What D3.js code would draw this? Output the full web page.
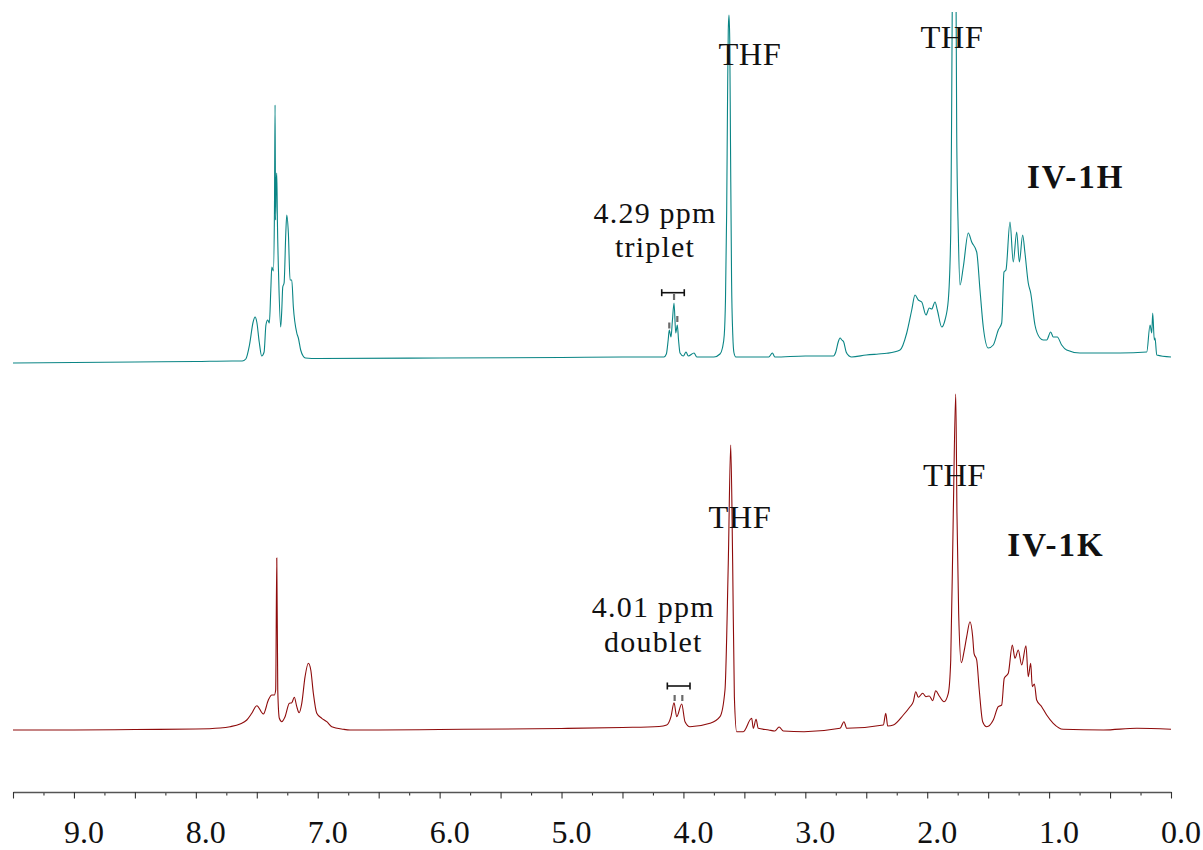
<!DOCTYPE html>
<html>
<head>
<meta charset="utf-8">
<script src="https://cdn.jsdelivr.net/npm/d3@7"></script>
<style>
  html, body { margin: 0; padding: 0; background: #fff; }
  svg { display: block; }
  text { font-family: "Liberation Serif", "Times New Roman", serif; fill: #111; }
</style>
</head>
<body>
<svg id="chart" width="1203" height="850"></svg>
<script>
// ---------- DATA (chemical shift in ppm, relative intensity) ----------
const shiftTicks = [9, 8, 7, 6, 5, 4, 3, 2, 1, 0];
const shiftTickLabels = ["9.0", "8.0", "7.0", "6.0", "5.0", "4.0", "3.0", "2.0", "1.0", "0.0"];

// IV-1H spectrum (teal, upper trace)
const ppmH = [9.5, 9.0, 8.5, 8.0, 7.7, 7.62, 7.59, 7.56, 7.53, 7.514, 7.5, 7.48, 7.46, 7.44, 7.425, 7.41, 7.397, 7.385, 7.377, 7.364, 7.355, 7.35, 7.346, 7.341, 7.336, 7.331, 7.32, 7.304, 7.295, 7.287, 7.276, 7.262, 7.254, 7.241, 7.227, 7.213, 7.2, 7.172, 7.159, 7.14, 7.12, 7.1, 7.0, 6.0, 5.0, 4.5, 4.16, 4.14, 4.125, 4.116, 4.102, 4.09, 4.077, 4.063, 4.05, 4.04, 4.028, 4.0, 3.979, 3.96, 3.913, 3.89, 3.75, 3.7, 3.68, 3.665, 3.655, 3.645, 3.638, 3.632, 3.626, 3.62, 3.614, 3.605, 3.595, 3.585, 3.57, 3.5, 3.3, 3.27, 3.25, 3.0, 2.8, 2.77, 2.75, 2.73, 2.715, 2.7, 2.685, 2.665, 2.64, 2.62, 2.5, 2.4, 2.332, 2.223, 2.168, 2.127, 2.1, 2.073, 2.045, 2.01, 1.983, 1.963, 1.936, 1.917, 1.881, 1.854, 1.827, 1.807, 1.799, 1.791, 1.78, 1.766, 1.758, 1.745, 1.731, 1.704, 1.663, 1.635, 1.594, 1.567, 1.54, 1.499, 1.458, 1.417, 1.389, 1.37, 1.354, 1.321, 1.294, 1.266, 1.244, 1.217, 1.198, 1.171, 1.151, 1.116, 1.075, 1.048, 1.02, 0.987, 0.966, 0.933, 0.897, 0.856, 0.747, 0.418, 0.199, 0.172, 0.158, 0.15, 0.137, 0.131, 0.117, 0.0];
const intH = [-3, -2.5, -2, -1.5, -1, -1, 1, 15, 38, 43, 38, 18, 4, 8, 35, 40, 37, 70, 93, 89, 150, 255, 140, 175, 187, 140, 80, 33, 50, 73, 77, 127, 145, 127, 80, 80, 53, 27, 22, 10, 4, 2, 1.5, 2, 2.5, 3, 3, 6, 20, 30, 23, 40, 57, 27, 35, 20, 7, 4, 8, 4, 7, 3, 3, 6, 12, 25, 60, 150, 260, 330, 345, 320, 220, 80, 25, 7, 3, 3, 3, 7, 3, 4, 4, 4, 8, 18, 22, 20, 18, 8, 4, 3, 5, 6, 6.7, 10, 27, 50, 65, 60, 58, 45, 52, 51, 58, 50, 33, 40, 60, 127, 260, 420, 470, 420, 227, 127, 75, 93, 127, 118, 108, 70, 33, 12, 15, 30, 37, 88, 90, 138, 98, 128, 98, 125, 107, 77, 67, 35, 22, 20, 20, 28, 23, 23, 15, 10, 7, 7, 8, 35, 27, 47, 20, 22, 5, 3];

// IV-1K spectrum (dark red, lower trace)
const ppmK = [9.5, 9.0, 8.5, 8.0, 7.8, 7.719, 7.637, 7.582, 7.541, 7.5, 7.446, 7.405, 7.377, 7.356, 7.345, 7.336, 7.328, 7.315, 7.295, 7.268, 7.233, 7.213, 7.192, 7.172, 7.153, 7.131, 7.104, 7.077, 7.057, 7.036, 7.008, 6.967, 6.926, 6.885, 6.79, 6.735, 6.5, 6.0, 5.0, 4.5, 4.2, 4.137, 4.102, 4.077, 4.055, 4.014, 3.987, 3.946, 3.782, 3.7, 3.659, 3.632, 3.612, 3.596, 3.582, 3.563, 3.509, 3.44, 3.427, 3.404, 3.386, 3.3, 3.25, 3.215, 3.18, 3.01, 2.715, 2.683, 2.66, 2.36, 2.34, 2.324, 2.278, 2.196, 2.141, 2.114, 2.094, 2.073, 2.037, 2.01, 1.983, 1.955, 1.93, 1.901, 1.862, 1.827, 1.807, 1.786, 1.766, 1.756, 1.742, 1.72, 1.698, 1.676, 1.649, 1.627, 1.616, 1.594, 1.573, 1.545, 1.512, 1.458, 1.417, 1.389, 1.368, 1.335, 1.302, 1.28, 1.253, 1.225, 1.19, 1.171, 1.151, 1.138, 1.121, 1.102, 1.061, 1.02, 0.966, 0.884, 0.555, 0.281, 0.0];
const intK = [0, 0, 0.5, 1, 2, 3.3, 6, 10, 16.7, 24.3, 16, 30, 35, 35, 40, 172, 40, 11.7, 8.3, 13.3, 26.7, 27.3, 32.7, 23.3, 17.3, 26.7, 53.3, 66.7, 60, 36.7, 16.7, 11.7, 8.3, 3.3, 0.7, 0, 0, 0.5, 1.5, 2.5, 3.5, 5, 13.3, 27.3, 13.3, 26, 8.3, 3.3, 6.7, 13.3, 40, 167, 285, 167, 33.3, -1.7, -1.7, 11.7, 1.7, 10.7, 1.7, 0, -1, 3, -1, -1.7, 1.7, 8.3, 1.7, 5, 16.7, 4, 5, 15, 23.3, 28.3, 38.3, 32.7, 36.7, 33.3, 34, 29.3, 39.3, 34, 28.3, 36.7, 70, 216.7, 336, 216.7, 116.7, 67.3, 78.3, 93.3, 108.3, 93.3, 76.7, 70, 40, 8.3, 3.3, 10, 23.3, 25, 51.7, 56.7, 85, 71.7, 80, 65, 84.3, 53.3, 66.7, 43.3, 46, 30, 23.3, 15, 6.7, 0.7, 0, 1.7, 0.7];

// ---------- LAYOUT ----------
const svg = d3.select("#chart");
const x = d3.scaleLinear().domain([9.5, 0]).range([13, 1171]);
const yH = d3.scaleLinear().domain([0, 360]).range([360, 0]);
const yK = d3.scaleLinear().domain([0, 340]).range([730, 390]);

svg.append("defs").append("clipPath").attr("id", "clipTop")
  .append("rect").attr("x", 0).attr("y", 12).attr("width", 1203).attr("height", 400);

const dataH = ppmH.map((p, i) => ({ p, v: intH[i] }));
const dataK = ppmK.map((p, i) => ({ p, v: intK[i] }));

const lineH = d3.line().x(d => x(d.p)).y(d => yH(d.v)).curve(d3.curveMonotoneX);
const lineK = d3.line().x(d => x(d.p)).y(d => yK(d.v)).curve(d3.curveMonotoneX);

svg.append("path").datum(dataH).attr("d", lineH)
  .attr("fill", "none").attr("stroke", "#0a8585").attr("stroke-width", 1.1)
  .attr("clip-path", "url(#clipTop)");
svg.append("path").datum(dataK).attr("d", lineK)
  .attr("fill", "none").attr("stroke", "#8e0b0b").attr("stroke-width", 1.1);

// ---------- AXIS ----------
const axisY = 792;
const minorAxis = d3.axisBottom(x).tickValues(d3.range(0, 19).map(i => i * 0.5 + 0.25))
  .tickSize(3.5).tickSizeOuter(0).tickFormat("");
const majorAxis = d3.axisBottom(x).tickValues(d3.range(0, 20).map(i => i * 0.5))
  .tickSize(6.5).tickSizeOuter(0).tickFormat("");
const gMin = svg.append("g").attr("transform", `translate(0,${axisY})`).call(minorAxis);
const gMaj = svg.append("g").attr("transform", `translate(0,${axisY})`).call(majorAxis);
[gMin, gMaj].forEach(g => {
  g.selectAll("path.domain").attr("stroke", "#555").attr("stroke-width", 1.3);
  g.selectAll(".tick line").attr("stroke", "#333").attr("stroke-width", 1.1);
});
gMin.select("path.domain").remove();

svg.append("g").selectAll("text").data(shiftTicks).join("text")
  .attr("x", d => x(d) + 10).attr("y", 843)
  .attr("text-anchor", "middle").attr("font-size", 32)
  .text((d, i) => shiftTickLabels[i]);

// ---------- ANNOTATIONS ----------
function label(ppm, y, txt, opts) {
  const o = Object.assign({ size: 32.5, bold: false, ls: 0.5 }, opts || {});
  svg.append("text").attr("x", x(ppm)).attr("y", y)
    .attr("text-anchor", "middle").attr("font-size", o.size)
    .attr("letter-spacing", o.ls)
    .attr("font-weight", o.bold ? "bold" : "normal").text(txt);
}
const boldOpt = { size: 33, bold: true, ls: 2 };
const noteOpt = { size: 30, ls: 1.2 };
label(3.454, 65, "THF");
label(1.797, 48, "THF");
label(0.782, 188, "IV-1H", boldOpt);
label(4.233, 223, "4.29 ppm", noteOpt);
label(4.233, 257, "triplet", noteOpt);
label(3.536, 528, "THF");
label(1.776, 486, "THF");
label(0.943, 556, "IV-1K", boldOpt);
label(4.247, 617, "4.01 ppm", noteOpt);
label(4.247, 652, "doublet", noteOpt);

function bracket(p1, p2, y) {
  const g = svg.append("g").attr("stroke", "#111").attr("stroke-width", 1.6);
  g.append("line").attr("x1", x(p1)).attr("x2", x(p2)).attr("y1", y).attr("y2", y);
  g.append("line").attr("x1", x(p1)).attr("x2", x(p1)).attr("y1", y - 3.5).attr("y2", y + 3.5);
  g.append("line").attr("x1", x(p2)).attr("x2", x(p2)).attr("y1", y - 3.5).attr("y2", y + 3.5);
}
function marker(p, y1, y2) {
  svg.append("line").attr("x1", x(p)).attr("x2", x(p)).attr("y1", y1).attr("y2", y2)
    .attr("stroke", "#6a6a6a").attr("stroke-width", 2.2);
}
bracket(4.178, 3.993, 292.7);
marker(4.077, 294, 300);
marker(4.116, 322.5, 328.5);
marker(4.050, 316, 322);
bracket(4.132, 3.946, 686);
marker(4.072, 695, 701);
marker(4.009, 695, 701);
</script>
</body>
</html>
